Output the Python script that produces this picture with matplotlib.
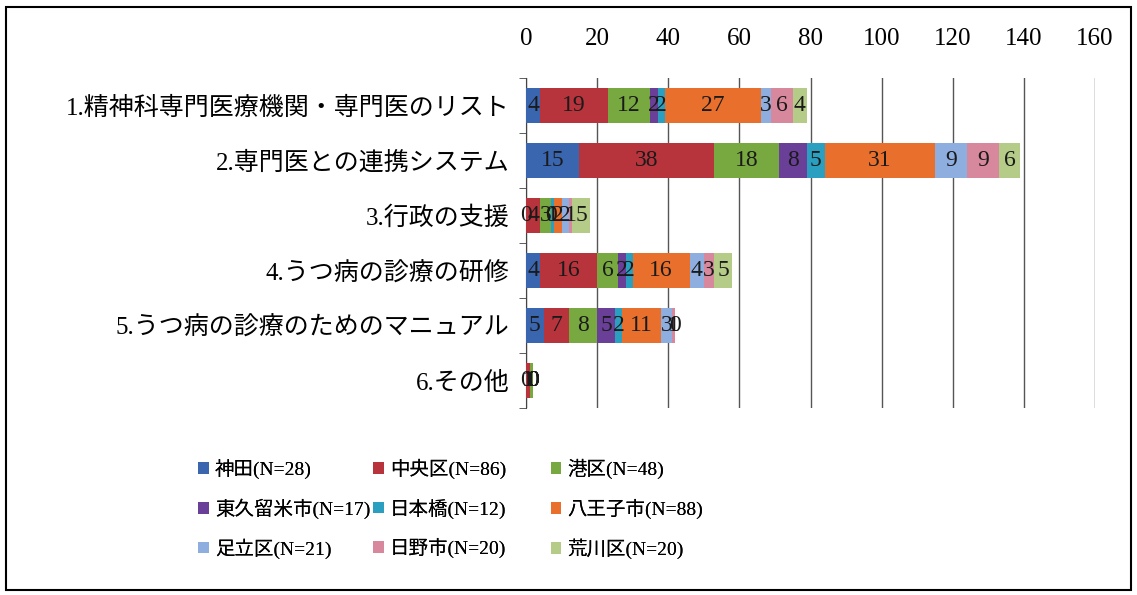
import numpy as np
import matplotlib.pyplot as plt
from matplotlib.patches import Rectangle

plt.rcParams['font.family'] = ['Liberation Serif', 'Noto Sans CJK JP']

# 項目と地区ごとの回答数
categories = ["1.精神科専門医療機関・専門医のリスト", "2.専門医との連携システム", "3.行政の支援",
              "4.うつ病の診療の研修", "5.うつ病の診療のためのマニュアル", "6.その他"]
areas = ["神田(N=28)", "中央区(N=86)", "港区(N=48)", "東久留米市(N=17)", "日本橋(N=12)",
         "八王子市(N=88)", "足立区(N=21)", "日野市(N=20)", "荒川区(N=20)"]
kanda = [4, 15, 0, 4, 5, 0]
chuo = [19, 38, 4, 16, 7, 1]
minato = [12, 18, 3, 6, 8, 1]
higashikurume = [2, 8, 0, 2, 5, 0]
nihonbashi = [2, 5, 1, 2, 2, 0]
hachioji = [27, 31, 2, 16, 11, 0]
adachi = [3, 9, 2, 4, 3, 0]
hino = [6, 9, 1, 3, 1, 0]
arakawa = [4, 6, 5, 5, 0, 0]
series = [kanda, chuo, minato, higashikurume, nihonbashi, hachioji, adachi, hino, arakawa]
colors = ["#3a66b0", "#b8343c", "#78a840", "#6a3f98", "#2b9fc0",
          "#e8702c", "#8eaee0", "#d8889c", "#b4cc88"]

fig = plt.figure(figsize=(11.37, 5.95), dpi=100)
ax = fig.add_axes([0.4626, 0.314, 0.5005, 0.555])

y = np.arange(len(categories))
left = np.zeros(len(categories))
handles = []
for vals, col, name in zip(series, colors, areas):
    bars = ax.barh(y, vals, left=left, height=0.64, color=col, label=name, zorder=3)
    ax.bar_label(bars, labels=[str(v) for v in vals], label_type='center',
                 fontsize=17, color='#1a1a1a', zorder=4)
    left += np.array(vals)
    handles.append(bars)

ax.set_xlim(0, 160)
ax.set_ylim(len(categories) - 0.5, -0.5)
ax.set_xticks(np.arange(0, 161, 20))
ax.xaxis.tick_top()
ax.tick_params(axis='x', length=0, labelsize=18, pad=20)
ax.set_yticks(y)
ax.set_yticklabels(categories, fontsize=18)
ax.set_yticks(np.arange(-0.5, len(categories), 1), minor=True)
ax.tick_params(axis='y', which='major', length=0, pad=12)
ax.tick_params(axis='y', which='minor', length=5, direction='out', color='#444444')
ax.grid(axis='x', color='#555555', linewidth=1.0, zorder=0)
for s in ['top', 'right', 'bottom']:
    ax.spines[s].set_visible(False)
ax.spines['left'].set_color('#444444')

# 凡例：3列を等間隔に並べる（各列を別の凡例として配置）
legend_x = [0.159, 0.313, 0.469]
for c, x0 in enumerate(legend_x):
    idx = [3 * r + c for r in range(3)]
    leg = fig.legend(handles=[handles[i] for i in idx], labels=[areas[i] for i in idx],
                     loc='upper left', bbox_to_anchor=(x0, 0.258),
                     frameon=False, fontsize=14, handlelength=0.55, handleheight=0.55,
                     handletextpad=0.3, labelspacing=1.0)
    fig.add_artist(leg)

# 外枠
fig.patches.append(Rectangle((0.005, 0.008), 0.99, 0.98, transform=fig.transFigure,
                             fill=False, edgecolor='black', linewidth=1.5))

fig.savefig("out.png", dpi=100)
